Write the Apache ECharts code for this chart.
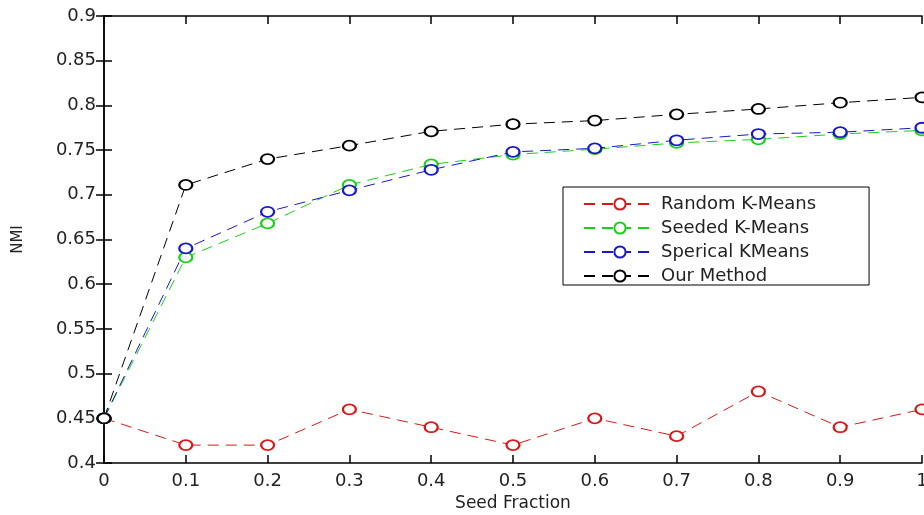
<!DOCTYPE html>
<html>
<head>
<meta charset="utf-8">
<script src="https://cdn.jsdelivr.net/npm/echarts@6/dist/echarts.min.js"></script>
<style>
  html, body { margin: 0; padding: 0; background: #fff; }
  #chart { width: 924px; height: 515px; }
</style>
</head>
<body>
<div id="chart"></div>
<script>
// seed fractions along x
const seedFractions = [0, 0.1, 0.2, 0.3, 0.4, 0.5, 0.6, 0.7, 0.8, 0.9, 1.0]

// NMI per method
const randomKMeans   = [0.45, 0.42, 0.42, 0.46, 0.44, 0.42, 0.45, 0.43, 0.48, 0.44, 0.46]
const seededKMeans   = [0.45, 0.63, 0.668, 0.711, 0.734, 0.745, 0.751, 0.758, 0.762, 0.768, 0.772]
const spericalKMeans = [0.45, 0.64, 0.681, 0.705, 0.728, 0.748, 0.752, 0.761, 0.768, 0.770, 0.775]
const ourMethod      = [0.45, 0.711, 0.740, 0.755, 0.771, 0.779, 0.783, 0.790, 0.796, 0.803, 0.809]

const seriesNames = ['Random K-Means', 'Seeded K-Means', 'Sperical KMeans', 'Our Method']
const seriesColors = ['#d81818', '#18d018', '#1818c8', '#000000']
const seriesData = [randomKMeans, seededKMeans, spericalKMeans, ourMethod]

// wide sans to get closer to the stretched matlab lettering
const font = 'DejaVu Sans, Verdana, sans-serif'
const textColor = '#222'

const chart = echarts.init(document.getElementById('chart'))

const mkSeries = (name, values, color) => ({
    name,
    type: 'line',
    data: values.map((v, i) => [seedFractions[i], v]),
    symbol: 'emptyCircle',
    symbolSize: [13, 10],
    showAllSymbol: true,
    lineStyle: { color, width: 1, type: [11, 7] },
    itemStyle: { color, borderColor: color, borderWidth: 1.2 },
    emphasis: { disabled: true },
    animation: false
})

// MATLAB-ish box: ticks inward on all four sides
const axisBase = {
    axisLine: { show: true, lineStyle: { color: '#000', width: 1.5 } },
    axisTick: { show: true, inside: true, length: 8, lineStyle: { color: '#000', width: 1.5 } },
    splitLine: { show: false }
}

chart.setOption({
    backgroundColor: '#fff',
    animation: false,
    // v6 would shrink the grid to keep labels inside, keep it fixed like the original
    grid: { left: 104, right: 2, top: 16, bottom: 52, containLabel: false, outerBoundsMode: 'none' },
    legend: {
        orient: 'vertical',
        left: 563,
        top: 187,
        data: seriesNames,
        backgroundColor: '#fff',
        borderColor: '#000',
        borderWidth: 1,
        borderRadius: 0,
        padding: [8, 53, 0, 20],
        itemWidth: 72,
        itemHeight: 14,
        itemGap: 6,
        textStyle: { fontFamily: font, fontSize: 18, color: textColor }
    },
    xAxis: [{
        ...axisBase,
        type: 'value',
        min: 0, max: 1, interval: 0.1,
        name: 'Seed Fraction',
        nameLocation: 'middle',
        nameGap: 30,
        nameTextStyle: { fontFamily: font, fontSize: 17, color: textColor },
        axisLabel: {
            fontFamily: font, fontSize: 18, color: textColor, margin: 9,
            formatter: v => String(+v.toFixed(1))
        }
    }, {
        ...axisBase,
        type: 'value', position: 'top',
        min: 0, max: 1, interval: 0.1,
        axisLabel: { show: false }
    }],
    yAxis: [{
        ...axisBase,
        type: 'value',
        min: 0.4, max: 0.9, interval: 0.05,
        name: 'NMI',
        nameLocation: 'middle',
        nameGap: 78,
        nameTextStyle: { fontFamily: font, fontSize: 15, color: textColor },
        axisLabel: {
            fontFamily: font, fontSize: 18, color: textColor, margin: 8,
            formatter: v => String(+v.toFixed(2))
        }
    }, {
        ...axisBase,
        type: 'value', position: 'right',
        min: 0.4, max: 0.9, interval: 0.05,
        axisLabel: { show: false }
    }],
    series: seriesNames.map((n, i) => mkSeries(n, seriesData[i], seriesColors[i]))
})
</script>
</body>
</html>
